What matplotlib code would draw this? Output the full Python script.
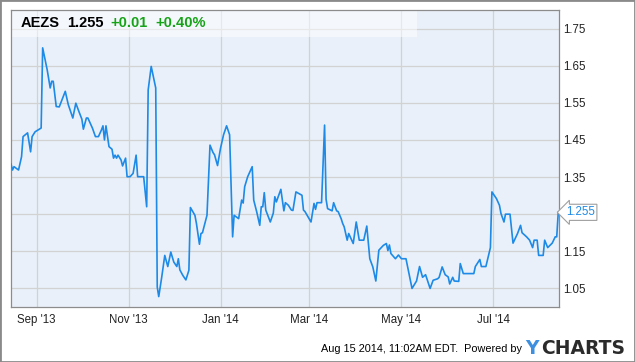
import pandas as pd
import matplotlib
matplotlib.use('Agg')
import matplotlib.pyplot as plt
from matplotlib.patches import Rectangle

plt.rcParams['font.family'] = ['Liberation Sans', 'DejaVu Sans']

# AEZS price (days after Aug 15 2013)
start = pd.Timestamp('2013-08-15')
days = [0, 1, 2, 5, 7, 8, 11, 13, 14, 16, 20, 21, 24, 26, 27, 28, 30, 32, 36, 38,
        39, 41, 43, 45, 47, 48, 50, 51, 54, 56, 58, 60, 61, 62, 63, 65, 67, 68, 69, 70,
        71, 73, 74, 76, 77, 79, 81, 83, 84, 88, 90, 91, 93, 96, 97, 98, 100, 102, 104, 106,
        108, 110, 111, 112, 114, 116, 118, 119, 122, 123, 125, 126, 127, 130, 132, 134, 135, 137, 139, 141,
        143, 145, 147, 148, 151, 153, 154, 155, 157, 160, 161, 163, 165, 166, 167, 168, 169, 172, 174, 175,
        176, 179, 181, 182, 184, 186, 187, 189, 193, 194, 195, 199, 201, 202, 203, 206, 208, 209, 210, 213,
        214, 216, 217, 219, 220, 221, 223, 224, 227, 229, 231, 234, 236, 238, 240, 242, 244, 247, 249, 250,
        251, 252, 255, 257, 259, 262, 266, 269, 271, 273, 275, 278, 280, 283, 284, 286, 288, 290, 291, 293,
        294, 297, 298, 300, 307, 308, 311, 312, 315, 318, 319, 322, 324, 325, 327, 328, 331, 333, 336, 338,
        339, 342, 344, 346, 347, 349, 350, 353, 354, 356, 359, 361, 362, 363]
prices = [1.385, 1.369, 1.378, 1.369, 1.405, 1.459, 1.469, 1.418, 1.459, 1.472,
          1.482, 1.698, 1.639, 1.590, 1.608, 1.608, 1.540, 1.539, 1.581, 1.545,
          1.533, 1.509, 1.549, 1.527, 1.506, 1.479, 1.509, 1.509, 1.482, 1.459,
          1.459, 1.477, 1.488, 1.450, 1.488, 1.432, 1.425, 1.401, 1.409, 1.401,
          1.409, 1.396, 1.380, 1.401, 1.351, 1.351, 1.360, 1.409, 1.351, 1.351,
          1.270, 1.585, 1.648, 1.590, 1.054, 1.028, 1.081, 1.139, 1.109, 1.148,
          1.121, 1.109, 1.130, 1.100, 1.085, 1.073, 1.099, 1.268, 1.247, 1.225,
          1.169, 1.198, 1.200, 1.247, 1.436, 1.416, 1.410, 1.381, 1.428, 1.464,
          1.488, 1.464, 1.189, 1.247, 1.238, 1.288, 1.280, 1.324, 1.351, 1.378,
          1.288, 1.256, 1.220, 1.270, 1.270, 1.308, 1.261, 1.229, 1.253, 1.297,
          1.283, 1.317, 1.259, 1.281, 1.274, 1.261, 1.260, 1.310, 1.301, 1.261,
          1.257, 1.229, 1.279, 1.263, 1.281, 1.281, 1.490, 1.290, 1.265, 1.259,
          1.281, 1.259, 1.257, 1.238, 1.225, 1.216, 1.180, 1.198, 1.171, 1.229,
          1.180, 1.180, 1.218, 1.130, 1.108, 1.070, 1.153, 1.166, 1.171, 1.152,
          1.167, 1.144, 1.130, 1.140, 1.130, 1.130, 1.050, 1.070, 1.109, 1.080,
          1.087, 1.050, 1.072, 1.076, 1.080, 1.108, 1.087, 1.081, 1.062, 1.080,
          1.070, 1.069, 1.117, 1.090, 1.090, 1.109, 1.128, 1.109, 1.109, 1.160,
          1.310, 1.292, 1.274, 1.252, 1.229, 1.250, 1.250, 1.172, 1.198, 1.220,
          1.200, 1.189, 1.180, 1.160, 1.180, 1.180, 1.139, 1.139, 1.180, 1.160,
          1.172, 1.189, 1.189, 1.255]

tick_dates = ['2013-09-01', '2013-11-01', '2014-01-01', '2014-03-01', '2014-05-01', '2014-07-01']
tick_labels = ["Sep '13", "Nov '13", "Jan '14", "Mar '14", "May '14", "Jul '14"]
y_ticks = [1.05, 1.15, 1.25, 1.35, 1.45, 1.55, 1.65, 1.75]

dates = start + pd.to_timedelta(days, unit='D')

W, H = 635, 362
fig = plt.figure(figsize=(W / 100, H / 100), dpi=100)
ax = fig.add_axes([11 / W, (H - 307) / H, 548 / W, 297 / H])
ax.set_facecolor('#eaf0fa')

ax.plot(dates, prices, color='#1c8ae6', lw=1.2, zorder=3)

ax.set_xlim(start, start + pd.Timedelta(days=363.5))
ax.set_ylim(1.0, 1.80)
ax.set_xticks(pd.to_datetime(tick_dates))
ax.set_xticklabels(tick_labels)
ax.set_yticks(y_ticks)
# the 1.25 label is covered by the last-value tag
ax.set_yticklabels(['' if v == 1.25 else '%.2f' % v for v in y_ticks])
ax.yaxis.tick_right()
ax.tick_params(length=0, labelsize=8.3, labelcolor='#222222')
ax.tick_params(axis='x', pad=5)
ax.tick_params(axis='y', pad=3)
ax.grid(True, color='#d2d2d2', lw=0.9)
ax.set_axisbelow(True)
for s in ax.spines.values():
    s.set_color('#8c8c8c')
    s.set_linewidth(0.9)

# light header box with the quote
ax.add_patch(Rectangle((0, 0.91), 0.741, 0.09, transform=ax.transAxes,
                       fc='white', ec='none', alpha=0.5, zorder=2))
fy = 1 - 23 / H
fig.text(21 / W, fy, 'AEZS', fontsize=10.5, fontweight='bold', va='center')
fig.text(67 / W, fy, '1.255', fontsize=10.5, fontweight='bold', va='center')
fig.text(110 / W, fy, '+0.01', fontsize=10.5, fontweight='bold', va='center', color='#17a317')
fig.text(155 / W, fy, '+0.40%', fontsize=10.5, fontweight='bold', va='center', color='#17a317')

# last value tag
ax.annotate('%.3f' % prices[-1], xy=(1.0, prices[-1]), xycoords=('axes fraction', 'data'),
            xytext=(5, 0), textcoords='offset points', va='center', ha='left',
            fontsize=8.3, color='#1c8ae6', annotation_clip=False,
            bbox=dict(boxstyle='larrow,pad=0.18', fc='white', ec='#a0a0a0', lw=0.8))

# footer
fig.text(321 / W, 1 - 349 / H, 'Aug 15 2014, 11:02AM EDT.  Powered by', fontsize=7.8, va='center')
fig.text(525 / W, 1 - 349 / H, 'Y', fontsize=13.5, fontweight='bold', va='center',
         color='#3d8fe0', family='DejaVu Sans')
fig.text(541 / W, 1 - 349 / H, 'CHARTS', fontsize=13.5, fontweight='bold', va='center',
         color='#2b2b2b', family='DejaVu Sans')

fig.patches.append(Rectangle((0, 0), 1, 1, transform=fig.transFigure, fill=False,
                             ec='#8a8a8a', lw=2))

fig.savefig('out.png', dpi=100)
